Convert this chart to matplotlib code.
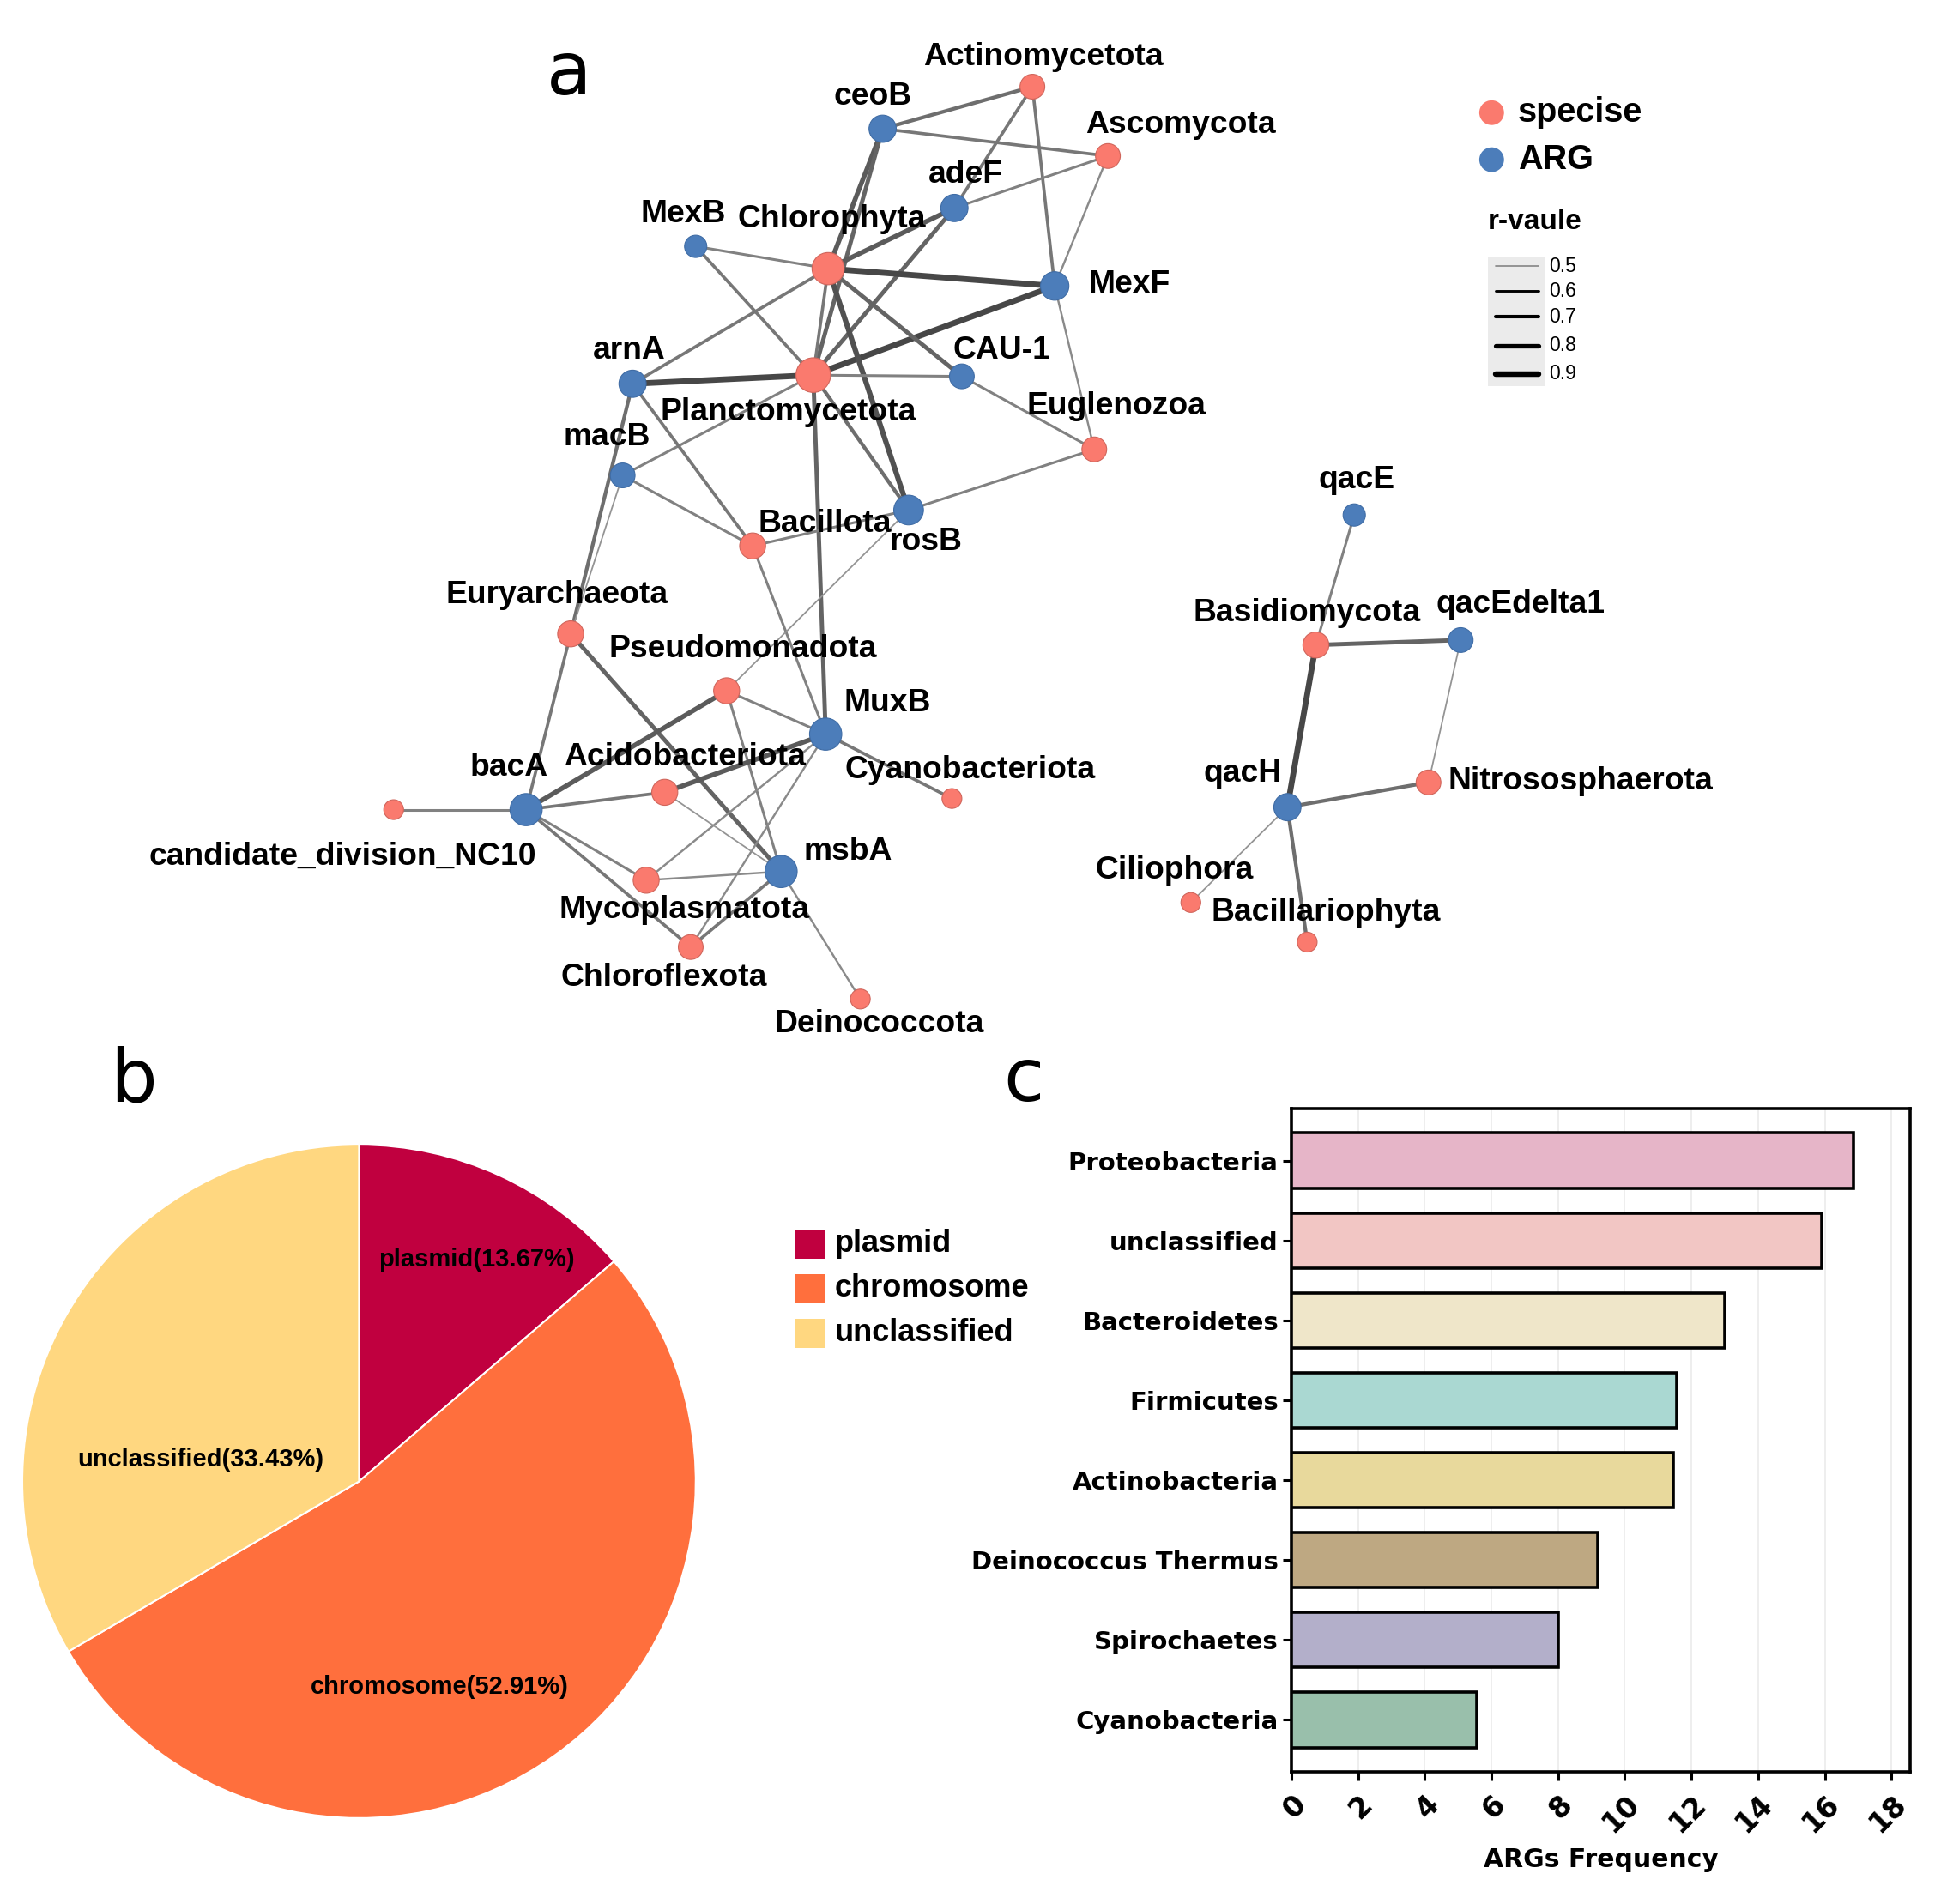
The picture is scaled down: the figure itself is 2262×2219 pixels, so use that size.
import matplotlib
matplotlib.use('Agg')
import matplotlib.pyplot as plt
from matplotlib.patches import Rectangle
import numpy as np

# ---------------- network data (layout units of a 1568 x 1538 canvas) ----------------
node_names = ['Actinomycetota', 'Ascomycota', 'Chlorophyta', 'Planctomycetota', 'Euglenozoa',
              'Bacillota', 'Euryarchaeota', 'Pseudomonadota', 'Acidobacteriota', 'Cyanobacteriota',
              'candidate_division_NC10', 'Mycoplasmatota', 'Chloroflexota', 'Deinococcota',
              'Basidiomycota', 'Nitrososphaerota', 'Ciliophora', 'Bacillariophyta',
              'ceoB', 'adeF', 'MexB', 'MexF', 'arnA', 'CAU-1', 'macB', 'rosB', 'MuxB', 'bacA',
              'msbA', 'qacE', 'qacEdelta1', 'qacH']
node_type = ['S'] * 18 + ['A'] * 14
node_x = [834, 895, 669, 657, 884, 608, 461, 587, 537, 769, 318, 522, 558, 695, 1063, 1154, 962, 1056,
          713, 771, 562, 852, 511, 777, 503, 734, 667, 425, 631, 1094, 1180, 1040]
node_y = [70, 126, 217, 303, 363, 441, 512, 558, 640, 645, 654, 711, 765, 807, 521, 632, 729, 761,
          104, 168, 199, 231, 310, 304, 384, 412, 593, 654, 704, 416, 517, 652]
node_r = [10, 10, 13, 14, 10, 10.5, 10.5, 10.5, 10.5, 8, 8, 10.5, 10, 8, 10.5, 10, 8, 8,
          11, 11, 9, 11.5, 11, 10, 10, 12, 13, 13, 13, 9, 10, 11]
label_x = [843, 954, 672, 637, 902, 666, 450, 600, 553, 784, 277, 553, 536, 710, 1056, 1277, 949, 1071,
           705, 780, 552, 912, 508, 809, 490, 748, 717, 411, 685, 1096, 1228, 1004]
label_y = [46, 101, 177, 333, 328, 423, 481, 524, 612, 622, 692, 735, 790, 827, 495, 631, 703, 737,
           78, 141, 173, 230, 283, 283, 353, 438, 568, 620, 688, 388, 488, 625]

edge_src = ['ceoB', 'ceoB', 'ceoB', 'ceoB', 'Actinomycetota', 'Actinomycetota', 'Ascomycota', 'Ascomycota',
            'adeF', 'adeF', 'MexB', 'MexB', 'Chlorophyta', 'Planctomycetota', 'Chlorophyta', 'Chlorophyta',
            'Chlorophyta', 'Chlorophyta', 'Planctomycetota', 'Planctomycetota', 'Planctomycetota',
            'Planctomycetota', 'Planctomycetota', 'MexF', 'CAU-1', 'Euglenozoa', 'arnA', 'arnA', 'macB',
            'macB', 'Bacillota', 'Bacillota', 'rosB', 'Euryarchaeota', 'Euryarchaeota', 'Pseudomonadota',
            'Pseudomonadota', 'Pseudomonadota', 'MuxB', 'MuxB', 'MuxB', 'MuxB', 'bacA', 'bacA', 'bacA',
            'bacA', 'Acidobacteriota', 'Mycoplasmatota', 'Chloroflexota', 'msbA', 'qacE', 'Basidiomycota',
            'Basidiomycota', 'qacEdelta1', 'qacH', 'qacH', 'qacH']
edge_dst = ['Actinomycetota', 'Ascomycota', 'Chlorophyta', 'Planctomycetota', 'adeF', 'MexF', 'adeF', 'MexF',
            'Chlorophyta', 'Planctomycetota', 'Chlorophyta', 'Planctomycetota', 'MexF', 'MexF', 'arnA', 'CAU-1',
            'rosB', 'Planctomycetota', 'arnA', 'CAU-1', 'rosB', 'macB', 'MuxB', 'Euglenozoa', 'Euglenozoa',
            'rosB', 'Bacillota', 'Euryarchaeota', 'Euryarchaeota', 'Bacillota', 'rosB', 'MuxB',
            'Pseudomonadota', 'bacA', 'msbA', 'bacA', 'MuxB', 'msbA', 'Acidobacteriota', 'Cyanobacteriota',
            'Mycoplasmatota', 'Chloroflexota', 'Acidobacteriota', 'candidate_division_NC10', 'Mycoplasmatota',
            'Chloroflexota', 'msbA', 'msbA', 'msbA', 'Deinococcota', 'Basidiomycota', 'qacEdelta1', 'qacH',
            'Nitrososphaerota', 'Nitrososphaerota', 'Ciliophora', 'Bacillariophyta']
edge_r = [0.7, 0.65, 0.8, 0.75, 0.65, 0.65, 0.6, 0.55,
          0.8, 0.75, 0.6, 0.65, 0.9, 0.9, 0.65, 0.75,
          0.85, 0.65, 0.9, 0.6, 0.7, 0.6, 0.75, 0.55, 0.6,
          0.6, 0.65, 0.7, 0.5, 0.6, 0.6, 0.6,
          0.5, 0.65, 0.75, 0.8, 0.6, 0.6, 0.8, 0.65,
          0.55, 0.55, 0.65, 0.6, 0.6, 0.65, 0.5, 0.55, 0.65, 0.55,
          0.6, 0.75, 0.9, 0.5, 0.7, 0.5, 0.7]

legend_r = [0.5, 0.6, 0.7, 0.8, 0.9]

# ---------------- pie data ----------------
pie_labels = ['plasmid', 'chromosome', 'unclassified']
pie_values = [13.67, 52.91, 33.43]
pie_colors = ['#C0003F', '#FF6F3D', '#FFD780']

# ---------------- bar data ----------------
bar_categories = ['Proteobacteria', 'unclassified', 'Bacteroidetes', 'Firmicutes', 'Actinobacteria',
                  'Deinococcus Thermus', 'Spirochaetes', 'Cyanobacteria']
bar_values = [16.85, 15.9, 13.0, 11.55, 11.45, 9.2, 8.0, 5.55]
bar_colors = ['#E6B5C8', '#F2C6C4', '#EFE6C9', '#AAD8D2', '#E8D99C', '#BEA882', '#B3AFCA', '#99BFAB']

SPECIES_C = '#FA7A6E'
ARG_C = '#4C7DBA'

fig = plt.figure(figsize=(22.62, 22.19), dpi=100)

# overlay axes for network and free text
ax0 = fig.add_axes([0, 0, 1, 1])
ax0.set_xlim(0, 1568)
ax0.set_ylim(1538, 0)
ax0.axis('off')
ax0.patch.set_alpha(0)

NET_FONT = 'Liberation Sans'


def lw_of(r):
    return 1.3 + (r - 0.5) * 9.0


def col_of(r):
    t = (r - 0.5) / 0.4
    g = 0.58 - 0.30 * t
    return (g, g, g)


idx = {n: i for i, n in enumerate(node_names)}
for s, d, r in zip(edge_src, edge_dst, edge_r):
    i, j = idx[s], idx[d]
    ax0.plot([node_x[i], node_x[j]], [node_y[i], node_y[j]], color=col_of(r), lw=lw_of(r),
             solid_capstyle='round', zorder=2)

sizes = [(2.077 * r) ** 2 for r in node_r]
cols = [SPECIES_C if t == 'S' else ARG_C for t in node_type]
edgec = ['#D0655B' if t == 'S' else '#3F6CA5' for t in node_type]
ax0.scatter(node_x, node_y, s=sizes, c=cols, edgecolors=edgec, linewidths=0.8, zorder=3)

for n, lx, ly in zip(node_names, label_x, label_y):
    ax0.text(lx, ly, n, ha='center', va='center', fontsize=26.8, fontweight='bold',
             family=NET_FONT, color='black', zorder=4)

# network legend
ax0.scatter([1205, 1205], [91, 129], s=(2.077 * 10) ** 2, c=[SPECIES_C, ARG_C], edgecolors='none', zorder=3)
ax0.text(1226, 91, 'specise', ha='left', va='center', fontsize=28.5, fontweight='bold', family=NET_FONT)
ax0.text(1226, 129, 'ARG', ha='left', va='center', fontsize=28.5, fontweight='bold', family=NET_FONT)
ax0.text(1240, 179, 'r-vaule', ha='center', va='center', fontsize=24, fontweight='bold', family=NET_FONT)
ax0.add_patch(Rectangle((1202, 207), 46, 105, facecolor='#EBEBEB', edgecolor='none', zorder=1))
leg_y = [215, 235, 256, 279, 302]
for r, yy in zip(legend_r, leg_y):
    ax0.plot([1208, 1243], [yy, yy], color='#888888' if r == 0.5 else 'black', lw=lw_of(r) * 0.95,
             solid_capstyle='round', zorder=2)
    ax0.text(1251, yy, str(r), ha='left', va='center', fontsize=16.5, family=NET_FONT)

# panel letters
for letter, px, py in [('a', 460, 60), ('b', 108, 873), ('c', 827, 873)]:
    ax0.text(px, py, letter, ha='center', va='center', fontsize=62, family='DejaVu Sans')

# ---------------- pie ----------------
cx, cy, R = 418.4, 1726.5, 392.4
ax_pie = fig.add_axes([(cx - R) / 2262, 1 - (cy + R) / 2219, 2 * R / 2262, 2 * R / 2219])
ax_pie.pie(pie_values, colors=pie_colors, startangle=90, counterclock=False, radius=1,
           wedgeprops=dict(edgecolor='white', linewidth=1.5))
ax_pie.set_aspect('auto')
ax_pie.set_xlim(-1, 1)
ax_pie.set_ylim(-1, 1)
ax_pie.axis('off')
pie_text_pos = [(0.35, 0.66), (0.24, -0.61), (-0.47, 0.066)]
for lab, v, (tx, ty) in zip(pie_labels, pie_values, pie_text_pos):
    ax_pie.text(tx, ty, f'{lab}({v:.2f}%)', ha='center', va='center', fontsize=21,
                fontweight='bold', family=NET_FONT)

# pie legend
for k, (lab, c) in enumerate(zip(pie_labels, pie_colors)):
    yy = 1005 + 36 * k
    ax0.add_patch(Rectangle((642, yy - 12), 24, 24, facecolor=c, edgecolor='none', zorder=2))
    ax0.text(674, yy, lab, ha='left', va='center', fontsize=26, fontweight='bold', family=NET_FONT)

# ---------------- bar ----------------
ax_bar = fig.add_axes([0.66534, 0.06940, 0.31874, 0.34835])
ypos = np.arange(len(bar_categories))
ax_bar.barh(ypos, bar_values, height=0.69, color=bar_colors, edgecolor='black', linewidth=2.6, zorder=3)
ax_bar.set_ylim(len(bar_categories) - 1 + 0.65, -0.65)
ax_bar.set_xlim(0, 18.56)
ax_bar.set_yticks(ypos)
ax_bar.set_yticklabels(bar_categories, fontsize=21, fontweight='bold', family='DejaVu Sans')
xt = np.arange(0, 19, 2)
ax_bar.set_xticks(xt)
ax_bar.set_xticklabels([str(v) for v in xt], fontsize=24, fontweight='bold', family='DejaVu Sans',
                       rotation=45, ha='right', va='top', rotation_mode='anchor')
ax_bar.grid(axis='x', color='#EBEBEB', lw=1.2, zorder=0)
ax_bar.set_axisbelow(True)
for sp in ax_bar.spines.values():
    sp.set_linewidth(2.6)
    sp.set_color('black')
ax_bar.tick_params(axis='both', length=7, width=2.2, color='black', pad=4)
ax_bar.tick_params(axis='x', pad=8)
ax_bar.set_xlabel('ARGs Frequency', fontsize=21.5, fontweight='bold', family='DejaVu Sans', labelpad=8)

fig.savefig('out.png', dpi=100, facecolor='white')
